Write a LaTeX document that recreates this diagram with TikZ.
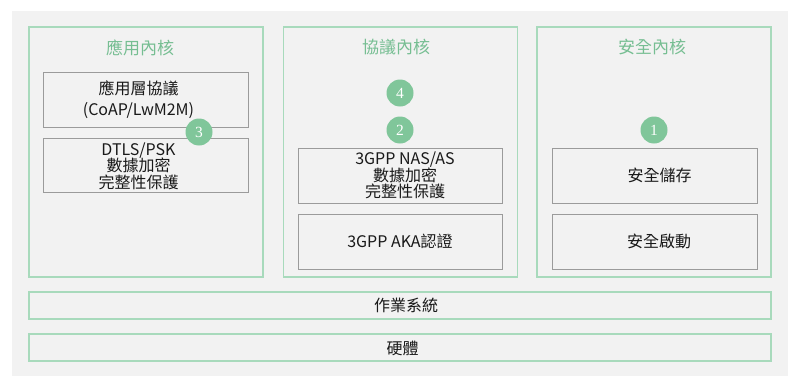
\documentclass[tikz,border=0pt]{standalone}
\usepackage{fontspec}
\setmainfont{Noto Sans CJK TC}
\newfontfamily\numfont{Liberation Serif}
\definecolor{bgpanel}{RGB}{242,242,242}
\definecolor{colborder}{RGB}{168,218,188}
\definecolor{titlegreen}{RGB}{118,190,146}
\definecolor{circfill}{RGB}{128,198,154}
\definecolor{boxborder}{RGB}{155,155,155}
\definecolor{txt}{RGB}{25,25,25}
\begin{document}
\begin{tikzpicture}[x=1pt,y=-1pt,
  column/.style={draw=colborder,line width=1.2pt,fill=bgpanel,minimum width=234pt,minimum height=250pt,inner sep=0pt},
  bar/.style={draw=colborder,line width=1.2pt,fill=bgpanel,minimum width=742pt,minimum height=27pt,inner sep=0pt},
  innerbox/.style={draw=boxborder,line width=0.9pt,fill=bgpanel,minimum width=205pt,minimum height=55pt,inner sep=0pt},
  boxtext/.style={align=center,text=txt,inner sep=0pt,font=\fontsize{16}{16.5}\selectfont},
  coltitle/.style={text=titlegreen,font=\fontsize{17}{18}\selectfont,inner sep=0pt},
  badge/.style={circle,fill=circfill,minimum size=27pt,inner sep=0pt,text=white,font=\numfont\fontsize{15.5}{15.5}\selectfont}
]
\useasboundingbox (0,0) rectangle (800,388);
\fill[white] (0,0) rectangle (800,388);
\fill[bgpanel] (12,11) rectangle (788,376);

\node[column] (appcol) at (146,152) {};
\node[column] (protcol) at (400.5,152) {};
\node[column] (seccol) at (654,152) {};

\node[coltitle] (apptitle) at (140,47.5) {應用內核};
\node[coltitle] (prottitle) at (396,47.5) {協議內核};
\node[coltitle] (sectitle) at (652,47.5) {安全內核};

\node[innerbox] (appproto) at (145.5,99.5) {};
\node[innerbox,minimum height=54pt] (dtls) at (145.5,165) {};
\node[innerbox,minimum width=204pt] (nas) at (400,175.5) {};
\node[innerbox,minimum width=204pt] (aka) at (400,241.5) {};
\node[innerbox] (storage) at (654.5,175.5) {};
\node[innerbox] (boot) at (654.5,241.5) {};

\node[boxtext,font=\fontsize{16}{21}\selectfont] (appprototext) at ([xshift=-7pt]appproto.center) {應用層協議\\(CoAP/LwM2M)};
\node[boxtext] (dtlstext) at ([xshift=-7pt,yshift=-1pt]dtls.center) {DTLS/PSK\\數據加密\\完整性保護};
\node[boxtext] (nastext) at ([xshift=5pt]nas.center) {3GPP NAS/AS\\數據加密\\完整性保護};
\node[boxtext] (akatext) at (aka.center) {3GPP AKA認證};
\node[boxtext] (storagetext) at ([xshift=5pt]storage.center) {安全儲存};
\node[boxtext] (boottext) at ([xshift=4.5pt]boot.center) {安全啟動};

\node[bar] (os) at (400,305.5) {};
\node[bar] (hw) at (400,347.5) {};
\node[boxtext] (ostext) at ([xshift=6pt]os.center) {作業系統};
\node[boxtext] (hwtext) at ([xshift=2.5pt,yshift=-1pt]hw.center) {硬體};

\node[badge] (b3) at (199,132) {3};
\node[badge] (b4) at (400,93) {4};
\node[badge] (b2) at (400,130) {2};
\node[badge] (b1) at (654,130) {1};
\end{tikzpicture}
\end{document}
